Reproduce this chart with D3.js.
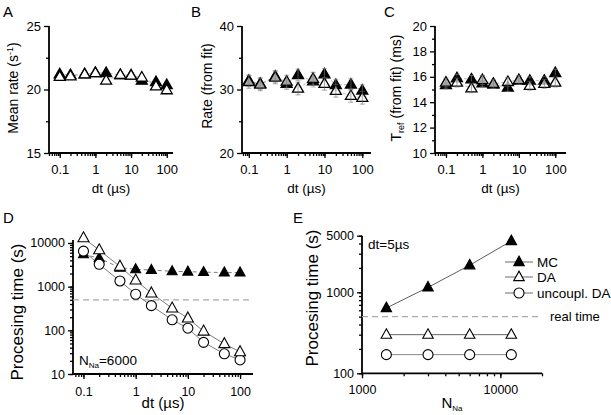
<!DOCTYPE html>
<html><head><meta charset="utf-8">
<script src="https://cdn.jsdelivr.net/npm/d3@7"></script>
<style>
html,body{margin:0;padding:0;background:#fff;}
svg text{font-family:"Liberation Sans",Arial,sans-serif;fill:#000;}
</style></head>
<body>
<svg id="chart" width="611" height="415"></svg>
<script>
// ---------------- DATA ----------------
const dt = [0.1, 0.2, 0.5, 1, 2, 5, 10, 20, 50, 100];
// A: mean rate (1/s)
const meanRateMC = [21.2, 21.15, 21.2, 21.3, 21.3, 21.15, 21.1, 20.7, 20.6, 20.35];
const meanRateDA = [21.0, 21.05, 21.2, 21.3, 20.7, 21.15, 21.1, 20.95, 20.25, 19.95];
// B: rate from fit
const fitRateMC = [31.4, 30.9, 32.05, 30.9, 32.3, 31.3, 32.4, 30.7, 30.8, 29.85];
const fitRateDA = [31.2, 30.8, 31.9, 31.25, 30.15, 31.7, 30.9, 29.8, 29.0, 28.7];
const fitRateErrMC = [0.9, 0.9, 0.9, 0.9, 0.9, 0.9, 0.9, 0.9, 0.9, 0.9];
const fitRateErrDA = [1.0, 1.0, 1.0, 1.0, 1.0, 1.0, 1.0, 1.0, 1.0, 1.0];
// C: T_ref from fit (ms)
const trefMC = [15.35, 15.9, 15.8, 15.5, 15.4, 15.15, 15.7, 15.7, 15.7, 16.3];
const trefDA = [15.55, 15.55, 15.1, 15.75, 15.45, 15.6, 15.75, 15.3, 15.45, 15.55];
const trefErrMC = [0.3, 0.3, 0.3, 0.3, 0.3, 0.3, 0.3, 0.3, 0.3, 0.3];
const trefErrDA = [0.35, 0.35, 0.35, 0.35, 0.35, 0.35, 0.35, 0.35, 0.35, 0.35];
// D: processing time vs dt (N_Na = 6000)
const procMC  = [5500, 4500, 2700, 2500, 2400, 2250, 2200, 2150, 2100, 2100];
const procDA  = [13000, 6900, 2900, 1400, 710, 320, 190, 95, 49, 32];
const procUnc = [6500, 3250, 1350, 670, 367, 174, 112, 53, 29, 21];
// E: processing time vs N_Na (dt = 5 us)
const nNa = [1500, 3000, 6000, 12000];
const procNaMC  = [640, 1150, 2160, 4300];
const procNaDA  = [300, 300, 300, 300];
const procNaUnc = [170, 170, 170, 170];
const realTime = 500;
const dtTicks = [0.1, 1, 10, 100];
const legendLabels = ["MC", "DA", "uncoupl. DA"];

// ---------------- HELPERS ----------------
const svg = d3.select("#chart");
const triPath = (w, h) => `M0,${-h*0.62}L${w/2},${h*0.38}L${-w/2},${h*0.38}Z`;

function logMinors(domain) {
  const out = [];
  const lo = Math.floor(Math.log10(domain[0])), hi = Math.ceil(Math.log10(domain[1]));
  for (let e = lo; e <= hi; e++) for (let k = 1; k <= 9; k++) {
    const v = k * Math.pow(10, e);
    if (v >= domain[0] * 0.999 && v <= domain[1] * 1.001) out.push(v);
  }
  return out;
}

function drawAxes(g, x, y, o) {
  const fmt = d => String(d);
  const xb = g.append("g").attr("transform", `translate(0,${y.range()[0]})`);
  xb.call(d3.axisBottom(x).tickValues(o.xMinor).tickSize(o.minorLen).tickFormat(""))
    .call(a => a.select(".domain").remove());
  const xm = g.append("g").attr("transform", `translate(0,${y.range()[0]})`);
  xm.call(d3.axisBottom(x).tickValues(o.xMajor).tickSize(o.majorLen).tickPadding(o.xPad).tickFormat(o.xFmt || fmt))
    .call(a => a.select(".domain").remove());
  xm.selectAll("text").attr("font-size", o.tickFont).attr("font-family", "Liberation Sans, Arial");
  const yb = g.append("g").attr("transform", `translate(${x.range()[0]},0)`);
  yb.call(d3.axisLeft(y).tickValues(o.yMinor).tickSize(o.minorLen).tickFormat(""))
    .call(a => a.select(".domain").remove());
  const ym = g.append("g").attr("transform", `translate(${x.range()[0]},0)`);
  ym.call(d3.axisLeft(y).tickValues(o.yMajor).tickSize(o.majorLen).tickPadding(o.yPad).tickFormat(o.yFmt || fmt))
    .call(a => a.select(".domain").remove());
  ym.selectAll("text").attr("font-size", o.tickFont).attr("font-family", "Liberation Sans, Arial");
  g.selectAll(".tick line").attr("stroke", "#000").attr("stroke-width", 1.3);
  g.append("path")
    .attr("d", `M${x.range()[0]},${y.range()[1]}V${y.range()[0]}H${x.range()[1]}`)
    .attr("fill", "none").attr("stroke", "#000").attr("stroke-width", 1.8);
}

function seriesLine(g, x, y, xs, ys, opt) {
  g.append("path")
    .attr("d", d3.line().x((d, i) => x(xs[i])).y(d => y(d))(ys))
    .attr("fill", "none").attr("stroke", opt.stroke).attr("stroke-width", opt.width)
    .attr("stroke-dasharray", opt.dash || null);
}

function triangles(g, x, y, xs, ys, opt) {
  g.selectAll(null).data(ys).join("path")
    .attr("transform", (d, i) => `translate(${x(xs[i])},${y(d)})`)
    .attr("d", triPath(opt.w, opt.h))
    .attr("fill", opt.fill).attr("fill-opacity", opt.fillOpacity == null ? 1 : opt.fillOpacity)
    .attr("stroke", "#000").attr("stroke-width", opt.sw).attr("stroke-linejoin", "miter");
}

function circles(g, x, y, xs, ys, r) {
  g.selectAll(null).data(ys).join("circle")
    .attr("cx", (d, i) => x(xs[i])).attr("cy", d => y(d)).attr("r", r)
    .attr("fill", "#fff").attr("stroke", "#000").attr("stroke-width", 1.1);
}

function errBars(g, x, y, xs, ys, es, color) {
  ys.forEach((v, i) => {
    const cx = x(xs[i]);
    g.append("path")
      .attr("d", `M${cx},${y(v - es[i])}V${y(v + es[i])}M${cx - 2.5},${y(v - es[i])}H${cx + 2.5}M${cx - 2.5},${y(v + es[i])}H${cx + 2.5}`)
      .attr("stroke", color).attr("stroke-width", 0.6).attr("fill", "none");
  });
}

function panelLetter(t, px, py) {
  svg.append("text").attr("x", px).attr("y", py).attr("font-size", 15).text(t);
}

function rotLabel(px, py, size) {
  return svg.append("text").attr("transform", `translate(${px},${py}) rotate(-90)`)
    .attr("text-anchor", "middle").attr("font-size", size);
}

// ---------------- PANELS A-C ----------------
function topPanel(o) {
  const g = svg.append("g");
  const x = d3.scaleLog().domain(o.xDom).range(o.xRange);
  const y = d3.scaleLinear().domain(o.yDom).range([153, 26]);
  drawAxes(g, x, y, {
    xMajor: dtTicks, xMinor: logMinors(o.xDom), yMajor: o.yMajor, yMinor: o.yMinor,
    majorLen: 5, minorLen: 3, xPad: 7, yPad: 3, tickFont: 13
  });
  seriesLine(g, x, y, dt, o.mc, { stroke: "#999", width: 0.7, dash: "3,2" });
  seriesLine(g, x, y, dt, o.da, { stroke: "#999", width: 0.7, dash: "3,2" });
  triangles(g, x, y, dt, o.mc, { w: 11, h: 9.5, fill: "#000", sw: 1.3 });
  if (o.emc) errBars(g, x, y, dt, o.mc, o.emc, "#888");
  triangles(g, x, y, dt, o.da, { w: 11, h: 9.5, fill: "#fff", fillOpacity: o.daOpacity, sw: 1.3 });
  if (o.eda) errBars(g, x, y, dt, o.da, o.eda, "#666");
  svg.append("text").attr("x", (o.xRange[0] + o.xRange[1]) / 2).attr("y", 193)
    .attr("text-anchor", "middle").attr("font-size", 13.5).text("dt (\u00b5s)");
}

topPanel({ xDom: [0.05, 150], xRange: [49, 173], yDom: [15, 25], yMajor: [15, 20, 25], yMinor: [17.5, 22.5],
  mc: meanRateMC, da: meanRateDA, daOpacity: 1 });
topPanel({ xDom: [0.066, 170], xRange: [242, 371], yDom: [20, 40], yMajor: [20, 30, 40], yMinor: [25, 35],
  mc: fitRateMC, da: fitRateDA, emc: fitRateErrMC, eda: fitRateErrDA, daOpacity: 0.65 });
topPanel({ xDom: [0.05, 197], xRange: [435, 566], yDom: [10, 20], yMajor: [10, 12, 14, 16, 18, 20], yMinor: [11, 13, 15, 17, 19],
  mc: trefMC, da: trefDA, emc: trefErrMC, eda: trefErrDA, daOpacity: 0.65 });

panelLetter("A", 3, 17);
panelLetter("B", 191, 17);
panelLetter("C", 384, 17);

{ const t = rotLabel(18, 88, 14); t.append("tspan").text("Mean rate (s");
  t.append("tspan").attr("dy", -5).attr("font-size", 9).text("-1");
  t.append("tspan").attr("dy", 5).text(")"); }
rotLabel(212, 86, 14).text("Rate (from fit)");
{ const t = rotLabel(401, 88, 14); t.append("tspan").text("T");
  t.append("tspan").attr("dy", 3).attr("font-size", 9).text("ref");
  t.append("tspan").attr("dy", -3).text(" (from fit) (ms)"); }

// ---------------- PANEL D ----------------
{
  const g = svg.append("g");
  const xDom = [0.063, 177], yDom = [10, 11700];
  const x = d3.scaleLog().domain(xDom).range([73, 253]);
  const y = d3.scaleLog().domain(yDom).range([374, 240]);
  drawAxes(g, x, y, {
    xMajor: dtTicks, xMinor: logMinors(xDom), yMajor: [10, 100, 1000, 10000], yMinor: logMinors(yDom),
    majorLen: 5, minorLen: 3, xPad: 8, yPad: 3, tickFont: 12.5
  });
  g.append("line").attr("x1", x.range()[0]).attr("x2", x.range()[1]).attr("y1", y(realTime)).attr("y2", y(realTime))
    .attr("stroke", "#aaa").attr("stroke-width", 1.2).attr("stroke-dasharray", "6,4");
  seriesLine(g, x, y, dt, procMC, { stroke: "#444", width: 0.7, dash: "4,3" });
  seriesLine(g, x, y, dt, procDA, { stroke: "#444", width: 0.7 });
  seriesLine(g, x, y, dt, procUnc, { stroke: "#444", width: 0.7 });
  triangles(g, x, y, dt, procMC, { w: 10, h: 9, fill: "#000", sw: 1.1 });
  circles(g, x, y, dt, procUnc, 5);
  triangles(g, x, y, dt, procDA, { w: 11, h: 10, fill: "#fff", sw: 1.1 });
  const t = svg.append("text").attr("x", 79).attr("y", 365).attr("font-size", 13.5);
  t.append("tspan").text("N");
  t.append("tspan").attr("dy", 3).attr("font-size", 8).text("Na");
  t.append("tspan").attr("dy", -3).text("=6000");
  svg.append("text").attr("x", 163).attr("y", 408).attr("text-anchor", "middle").attr("font-size", 15).text("dt (\u00b5s)");
  rotLabel(23, 312, 17).text("Procesing time (s)");
}

// ---------------- PANEL E ----------------
{
  const g = svg.append("g");
  const xDom = [1000, 20000], yDom = [100, 5000];
  const x = d3.scaleLog().domain(xDom).range([362, 542]);
  const y = d3.scaleLog().domain(yDom).range([373.3, 235.7]);
  drawAxes(g, x, y, {
    xMajor: [1000, 10000], xMinor: logMinors(xDom), yMajor: [100, 1000, 5000], yMinor: logMinors(yDom),
    majorLen: 5, minorLen: 3, xPad: 7, yPad: 3, tickFont: 12.5
  });
  g.append("line").attr("x1", x.range()[0]).attr("x2", 540).attr("y1", y(realTime)).attr("y2", y(realTime))
    .attr("stroke", "#aaa").attr("stroke-width", 1.2).attr("stroke-dasharray", "6,4");
  seriesLine(g, x, y, nNa, procNaMC, { stroke: "#333", width: 0.8 });
  seriesLine(g, x, y, nNa, procNaDA, { stroke: "#666", width: 1 });
  seriesLine(g, x, y, nNa, procNaUnc, { stroke: "#888", width: 1 });
  triangles(g, x, y, nNa, procNaMC, { w: 10.5, h: 9.5, fill: "#000", sw: 1.1 });
  triangles(g, x, y, nNa, procNaDA, { w: 10.5, h: 9.5, fill: "#fff", sw: 1.1 });
  circles(g, x, y, nNa, procNaUnc, 5);
  svg.append("text").attr("x", 368).attr("y", 249).attr("font-size", 13.5).text("dt=5\u00b5s");
  svg.append("text").attr("x", 550).attr("y", 321).attr("font-size", 13).text("real time");
  const ly = [262, 277, 293];
  ly.forEach((yy, i) => {
    g.append("line").attr("x1", 505).attr("x2", 533).attr("y1", yy).attr("y2", yy)
      .attr("stroke", "#444").attr("stroke-width", 0.8);
    if (i === 2) {
      g.append("circle").attr("cx", 519).attr("cy", yy).attr("r", 5).attr("fill", "#fff").attr("stroke", "#000").attr("stroke-width", 1.1);
    } else {
      g.append("path").attr("transform", `translate(519,${yy})`).attr("d", triPath(10.5, 9.5))
        .attr("fill", i === 0 ? "#000" : "#fff").attr("stroke", "#000").attr("stroke-width", 1.1);
    }
    svg.append("text").attr("x", 537).attr("y", yy + 5).attr("font-size", 13.5).text(legendLabels[i]);
  });
  const t = svg.append("text").attr("x", 452).attr("y", 408).attr("text-anchor", "middle").attr("font-size", 15);
  t.append("tspan").text("N");
  t.append("tspan").attr("dy", 3).attr("font-size", 8).text("Na");
  rotLabel(318, 298, 17).text("Procesing time (s)");
}
panelLetter("D", 3, 223);
panelLetter("E", 293, 223);
</script>
</body></html>
